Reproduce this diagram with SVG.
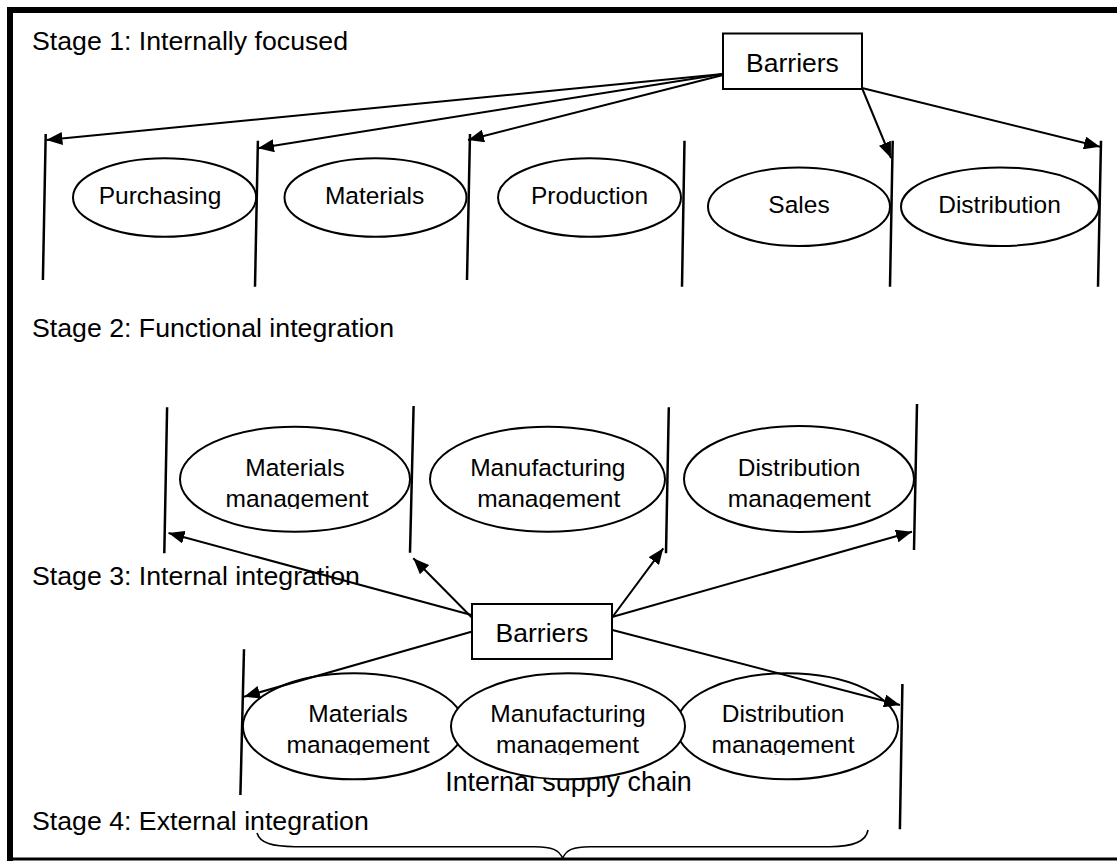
<svg xmlns="http://www.w3.org/2000/svg" width="1117" height="861" viewBox="0 0 1117 861">
  <style>
    .t { font-family: "Liberation Sans", Arial, sans-serif; fill: #000; }
    .stage { font-size: 26.7px; }
    .lab { font-size: 24.5px; text-anchor: middle; }
    .boxlab { font-size: 26.5px; text-anchor: middle; }
    .el { fill: #fff; stroke: #000; stroke-width: 2; }
    .box { fill: #fff; stroke: #000; stroke-width: 2; }
    .div { stroke: #000; stroke-width: 2.5; fill: none; }
    .con { stroke: #000; stroke-width: 2; fill: none; marker-end: url(#ah); }
    .brace { stroke: #000; stroke-width: 1.6; fill: none; }
  </style>
  <defs>
    <marker id="ah" markerUnits="userSpaceOnUse" markerWidth="16" markerHeight="13" refX="16" refY="6.5" orient="auto">
      <path d="M0,0 L16,6.5 L0,13 Z" fill="#000"/>
    </marker>
    <!-- two-line labels are cut just below the second baseline -->
    <clipPath id="cut2" clipPathUnits="userSpaceOnUse"><rect x="0" y="0" width="1117" height="509"/></clipPath>
    <clipPath id="cut3" clipPathUnits="userSpaceOnUse"><rect x="0" y="0" width="1117" height="755"/></clipPath>
  </defs>

  <rect width="1117" height="861" fill="#fff"/>

  <!-- frame -->
  <g id="frame" fill="#000">
    <rect x="7" y="7" width="1110" height="6"/>
    <rect x="7" y="7" width="6" height="854"/>
    <rect x="7" y="857.5" width="1110" height="3"/>
  </g>

  <!-- stage headings -->
  <g id="stage-labels" class="t stage">
    <text x="32" y="50">Stage 1: Internally focused</text>
    <text x="32" y="337">Stage 2: Functional integration</text>
    <text x="32" y="585">Stage 3: Internal integration</text>
    <text x="32" y="830">Stage 4: External integration</text>
  </g>

  <g id="internal-supply-chain">
    <text class="t" x="568.5" y="790.7" font-size="26.9px" text-anchor="middle">Internal supply chain</text>
  </g>

  <!-- stage 1 functions -->
  <g id="purchasing">
    <ellipse class="el" cx="164.6" cy="197.5" rx="91.6" ry="39.2"/>
    <text class="t lab" x="160" y="204">Purchasing</text>
  </g>
  <g id="materials">
    <ellipse class="el" cx="375.5" cy="197.5" rx="91" ry="39.2"/>
    <text class="t lab" x="374.6" y="204">Materials</text>
  </g>
  <g id="production">
    <ellipse class="el" cx="589.5" cy="197.5" rx="91.5" ry="39.2"/>
    <text class="t lab" x="589.5" y="204">Production</text>
  </g>
  <g id="sales">
    <ellipse class="el" cx="799" cy="206.7" rx="91" ry="39.3"/>
    <text class="t lab" x="799" y="213.3">Sales</text>
  </g>
  <g id="distribution">
    <ellipse class="el" cx="1000" cy="206.7" rx="99" ry="39.3"/>
    <text class="t lab" x="999.5" y="213.3">Distribution</text>
  </g>

  <!-- stage 2 functions -->
  <g id="materials-mgmt-2">
    <ellipse class="el" cx="295" cy="479.2" rx="115" ry="52.5"/>
    <g clip-path="url(#cut2)">
      <text class="t lab" x="295" y="475.7">Materials</text>
      <text class="t lab" x="297" y="507.3">management</text>
    </g>
  </g>
  <g id="manufacturing-mgmt-2">
    <ellipse class="el" cx="547.5" cy="479.2" rx="117.5" ry="52.5"/>
    <g clip-path="url(#cut2)">
      <text class="t lab" x="547.8" y="475.7">Manufacturing</text>
      <text class="t lab" x="548.7" y="507.3">management</text>
    </g>
  </g>
  <g id="distribution-mgmt-2">
    <ellipse class="el" cx="799" cy="479" rx="115" ry="53"/>
    <g clip-path="url(#cut2)">
      <text class="t lab" x="799" y="475.7">Distribution</text>
      <text class="t lab" x="799.3" y="507.3">management</text>
    </g>
  </g>

  <!-- stage 3 functions (manufacturing drawn last, overlapping both neighbours) -->
  <g id="materials-mgmt-3">
    <ellipse class="el" cx="353.6" cy="726.3" rx="110.7" ry="53"/>
    <g clip-path="url(#cut3)">
      <text class="t lab" x="358" y="721.7">Materials</text>
      <text class="t lab" x="358" y="753.3">management</text>
    </g>
  </g>
  <g id="distribution-mgmt-3">
    <ellipse class="el" cx="787" cy="726.3" rx="111" ry="53"/>
    <g clip-path="url(#cut3)">
      <text class="t lab" x="783" y="721.7">Distribution</text>
      <text class="t lab" x="783" y="753.3">management</text>
    </g>
  </g>
  <g id="manufacturing-mgmt-3">
    <ellipse class="el" cx="568" cy="726.3" rx="117" ry="53"/>
    <g clip-path="url(#cut3)">
      <text class="t lab" x="568" y="721.7">Manufacturing</text>
      <text class="t lab" x="567.5" y="753.3">management</text>
    </g>
  </g>

  <!-- barrier lines between functions -->
  <g id="dividers" class="div">
    <line x1="45.7" y1="134" x2="42.9" y2="280"/>
    <line x1="257.9" y1="140.7" x2="255" y2="286.7"/>
    <line x1="470" y1="134" x2="467" y2="280"/>
    <line x1="684.5" y1="140.7" x2="682" y2="286.7"/>
    <line x1="892.7" y1="140.7" x2="890" y2="286.7"/>
    <line x1="1101" y1="140.7" x2="1098" y2="286.7"/>

    <line x1="167.1" y1="407.3" x2="164.3" y2="553.3"/>
    <line x1="413.6" y1="406" x2="410" y2="552.7"/>
    <line x1="668.8" y1="407.3" x2="666" y2="553.3"/>
    <line x1="917" y1="404" x2="914" y2="550"/>

    <line x1="244" y1="649.3" x2="240.4" y2="795"/>
    <line x1="902.4" y1="684" x2="899.9" y2="829.3"/>
  </g>

  <!-- barrier boxes -->
  <g id="barriers-1">
    <rect class="box" x="723" y="33.5" width="139" height="55.5"/>
    <text class="t boxlab" x="792.5" y="71.7">Barriers</text>
  </g>
  <g id="barriers-2">
    <rect class="box" x="472" y="604" width="140" height="55"/>
    <text class="t boxlab" x="542" y="642.3">Barriers</text>
  </g>

  <!-- arrows from the barrier boxes to the dividers -->
  <g id="connectors">
    <path class="con" d="M723,74 L46.4,140"/>
    <path class="con" d="M723,74 L258,148.3"/>
    <path class="con" d="M723,75 L468,140"/>
    <path class="con" d="M862,88 L891,158"/>
    <path class="con" d="M862,88 L1100,146.7"/>

    <path class="con" d="M471.5,615 L168.5,533"/>
    <path class="con" d="M472.3,618 L413.3,558.3"/>
    <path class="con" d="M611.7,618 L663.3,548.3"/>
    <path class="con" d="M612,617 L912,531.7"/>

    <path class="con" d="M471.4,631.7 L244,696.7"/>
    <path class="con" d="M612.4,630 L900,705"/>
  </g>

  <!-- brace under the internal supply chain -->
  <g id="brace">
    <path class="brace" d="M257,833 C260,843 272,846.7 295,846.7 L535,846.7 C552,846.7 559,850 562.7,858.3 C566,850 573,846.7 590,846.7 L830,846.7 C853,846.7 866,842 868,830"/>
  </g>
</svg>
